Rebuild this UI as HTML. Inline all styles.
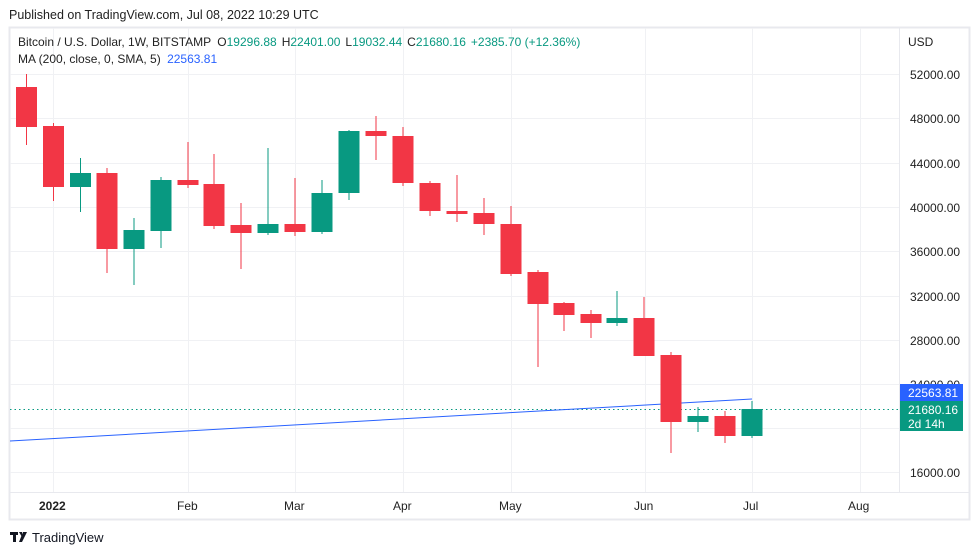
<!DOCTYPE html>
<html><head><meta charset="utf-8"><style>
body{margin:0;background:#fff;width:979px;height:555px;overflow:hidden;font-family:"Liberation Sans",sans-serif}
</style></head><body>
<svg width="979" height="555" xmlns="http://www.w3.org/2000/svg" font-family="Liberation Sans, sans-serif">
<text x="9" y="19" font-size="12.5" fill="#222">Published on TradingView.com, Jul 08, 2022 10:29 UTC</text>
<rect x="9.5" y="27.5" width="960" height="492" fill="#fff" stroke="#e8e9ee" stroke-width="2"/>
<g stroke="#f0f1f4" stroke-width="1">
<line x1="10" x2="899" y1="74.5" y2="74.5"/><line x1="10" x2="899" y1="118.5" y2="118.5"/><line x1="10" x2="899" y1="163.5" y2="163.5"/><line x1="10" x2="899" y1="207.5" y2="207.5"/><line x1="10" x2="899" y1="251.5" y2="251.5"/><line x1="10" x2="899" y1="296.5" y2="296.5"/><line x1="10" x2="899" y1="340.5" y2="340.5"/><line x1="10" x2="899" y1="384.5" y2="384.5"/><line x1="10" x2="899" y1="428.5" y2="428.5"/><line x1="10" x2="899" y1="472.5" y2="472.5"/>
<line y1="28" y2="492" x1="53.5" x2="53.5"/><line y1="28" y2="492" x1="188.5" x2="188.5"/><line y1="28" y2="492" x1="295.5" x2="295.5"/><line y1="28" y2="492" x1="403.5" x2="403.5"/><line y1="28" y2="492" x1="511.5" x2="511.5"/><line y1="28" y2="492" x1="645.5" x2="645.5"/><line y1="28" y2="492" x1="752.5" x2="752.5"/><line y1="28" y2="492" x1="860.5" x2="860.5"/>
</g>
<line x1="10" x2="969" y1="492.5" y2="492.5" stroke="#e8e9ee"/>
<line x1="899.5" x2="899.5" y1="28" y2="492" stroke="#e8e9ee"/>
<text x="18" y="46" font-size="12" fill="#222">Bitcoin / U.S. Dollar, 1W, BITSTAMP <tspan dx="3">O</tspan><tspan fill="#089981">19296.88</tspan><tspan dx="5">H</tspan><tspan fill="#089981">22401.00</tspan><tspan dx="5">L</tspan><tspan fill="#089981">19032.44</tspan><tspan dx="5">C</tspan><tspan fill="#089981">21680.16</tspan><tspan dx="5" fill="#089981">+2385.70 (+12.36%)</tspan></text>
<text x="18" y="63" font-size="12" fill="#222">MA (200, close, 0, SMA, 5) <tspan dx="3" fill="#2962ff">22563.81</tspan></text>
<text x="908" y="46" font-size="12" fill="#222">USD</text>
<g font-size="12" fill="#222">
<text x="910" y="79">52000.00</text><text x="910" y="123">48000.00</text><text x="910" y="168">44000.00</text><text x="910" y="212">40000.00</text><text x="910" y="256">36000.00</text><text x="910" y="301">32000.00</text><text x="910" y="345">28000.00</text><text x="910" y="389">24000.00</text><text x="910" y="477">16000.00</text>
</g>
<g font-size="12" fill="#222">
<text x="39" y="510" font-weight="bold">2022</text><text x="177" y="510">Feb</text><text x="284" y="510">Mar</text><text x="393" y="510">Apr</text><text x="499" y="510">May</text><text x="634" y="510">Jun</text><text x="743" y="510">Jul</text><text x="848" y="510">Aug</text>
</g>
<line x1="10" y1="409.5" x2="899" y2="409.5" stroke="#089981" stroke-dasharray="1.5,3" stroke-width="1"/>
<line x1="10" y1="441" x2="752" y2="399" stroke="#2962ff" stroke-width="1"/>
<g stroke="#f23645" stroke-width="1">
<line x1="26.5" x2="26.5" y1="74" y2="145"/><line x1="53.5" x2="53.5" y1="123" y2="201"/><line x1="107" x2="107" y1="168" y2="273"/><line x1="188" x2="188" y1="142" y2="188"/><line x1="214" x2="214" y1="154" y2="229"/><line x1="241" x2="241" y1="203" y2="269"/><line x1="295" x2="295" y1="178" y2="236"/><line x1="376" x2="376" y1="116" y2="160"/><line x1="403" x2="403" y1="127" y2="186"/><line x1="430" x2="430" y1="181" y2="216"/><line x1="457" x2="457" y1="175" y2="222"/><line x1="484" x2="484" y1="198" y2="235"/><line x1="511" x2="511" y1="206" y2="276"/><line x1="538" x2="538" y1="270" y2="367"/><line x1="564" x2="564" y1="302" y2="331"/><line x1="591" x2="591" y1="310" y2="338"/><line x1="644" x2="644" y1="297" y2="356"/><line x1="671" x2="671" y1="352" y2="453"/><line x1="725" x2="725" y1="411" y2="443"/>
</g>
<g fill="#f23645">
<rect x="16" y="87" width="21" height="40"/><rect x="43" y="126" width="21" height="61"/><rect x="96.5" y="173" width="21" height="76"/><rect x="177.5" y="180" width="21" height="5"/><rect x="203.5" y="184" width="21" height="42"/><rect x="230.5" y="225" width="21" height="8"/><rect x="284.5" y="224" width="21" height="8"/><rect x="365.5" y="131" width="21" height="5"/><rect x="392.5" y="136" width="21" height="47"/><rect x="419.5" y="183" width="21" height="28"/><rect x="446.5" y="211" width="21" height="3"/><rect x="473.5" y="213" width="21" height="11"/><rect x="500.5" y="224" width="21" height="50"/><rect x="527.5" y="272" width="21" height="32"/><rect x="553.5" y="303" width="21" height="12"/><rect x="580.5" y="314" width="21" height="9"/><rect x="633.5" y="318" width="21" height="38"/><rect x="660.5" y="355" width="21" height="67"/><rect x="714.5" y="416" width="21" height="20"/>
</g>
<g stroke="#089981" stroke-width="1">
<line x1="80.5" x2="80.5" y1="158" y2="212"/><line x1="134" x2="134" y1="218" y2="285"/><line x1="161" x2="161" y1="177" y2="248"/><line x1="268" x2="268" y1="148" y2="235"/><line x1="322" x2="322" y1="180" y2="234"/><line x1="349" x2="349" y1="130" y2="200"/><line x1="617" x2="617" y1="291" y2="326"/><line x1="698" x2="698" y1="407" y2="432"/><line x1="752" x2="752" y1="401" y2="438"/>
</g>
<g fill="#089981">
<rect x="70" y="173" width="21" height="14"/><rect x="123.5" y="230" width="21" height="19"/><rect x="150.5" y="180" width="21" height="51"/><rect x="257.5" y="224" width="21" height="9"/><rect x="311.5" y="193" width="21" height="39"/><rect x="338.5" y="131" width="21" height="62"/><rect x="606.5" y="318" width="21" height="5"/><rect x="687.5" y="416" width="21" height="6"/><rect x="741.5" y="409" width="21" height="27"/>
</g>
<rect x="900" y="384" width="63" height="17" fill="#2962ff"/>
<text x="908" y="397" font-size="12" fill="#fff">22563.81</text>
<rect x="900" y="401" width="63" height="30" fill="#089981"/>
<text x="908" y="414" font-size="12" fill="#fff">21680.16</text>
<text x="908" y="428" font-size="12" fill="#fff">2d 14h</text>
<g fill="#131722">
<rect x="10" y="532" width="8" height="3"/><rect x="13" y="532" width="3" height="10"/>
<path d="M19 532 L22 532 L22 537 Z"/><path d="M23 532 L27 532 L22 542 L19 542 Z"/>
</g>
<text x="32" y="542" font-size="13" fill="#131722">TradingView</text>
</svg>
</body></html>
